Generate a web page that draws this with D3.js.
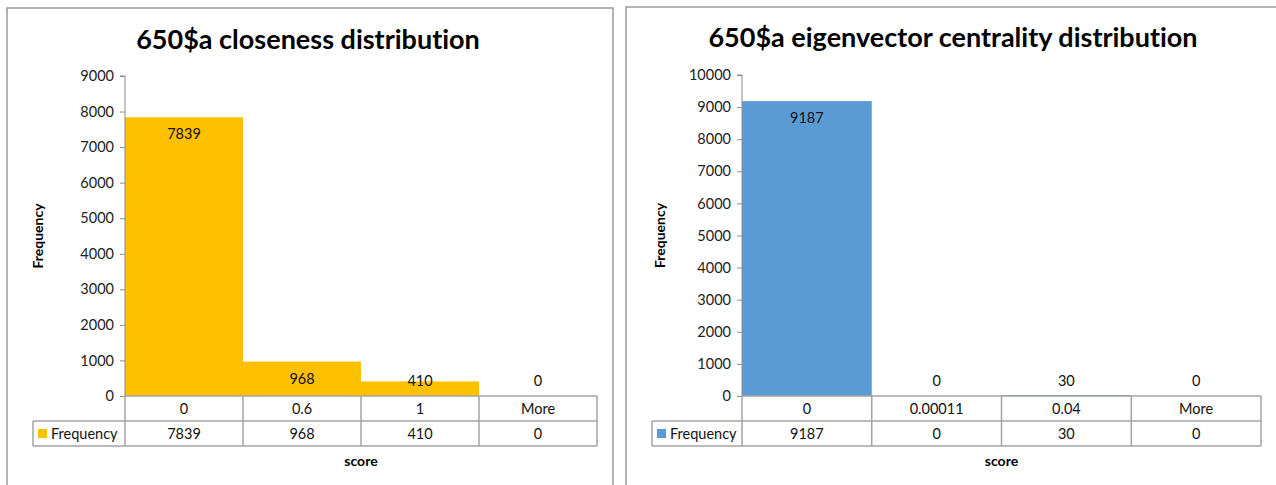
<!DOCTYPE html>
<html>
<head>
<meta charset="utf-8">
<script src="https://cdn.jsdelivr.net/npm/d3@7"></script>
<style>
  html, body { margin: 0; padding: 0; background: #fff; }
  svg { display: block; font-family: Lato, "Open Sans", sans-serif; font-variant-ligatures: none; }
  svg text { font-variant-ligatures: none; font-feature-settings: "liga" 0, "clig" 0; }
</style>
</head>
<body>
<svg id="chart" width="1276" height="485"></svg>
<script>
// Histogram data: bin labels, frequencies and axis ticks for each chart
const closenessTitle = "650$a closeness distribution";
const closenessBins = ["0", "0.6", "1", "More"];
const closenessFreq = [7839, 968, 410, 0];
const closenessTicks = [0, 1000, 2000, 3000, 4000, 5000, 6000, 7000, 8000, 9000];

const eigenTitle = "650$a eigenvector centrality distribution";
const eigenBins = ["0", "0.00011", "0.04", "More"];
const eigenFreq = [9187, 0, 30, 0];
const eigenTicks = [0, 1000, 2000, 3000, 4000, 5000, 6000, 7000, 8000, 9000, 10000];

const seriesName = "Frequency";
const xTitle = "score";

const svg = d3.select("#chart");
const FONT = 14.5;

function drawHistogram(opt) {
  const g = svg.append("g");
  const rowH = 25;

  // chart frame
  g.append("rect")
    .attr("x", opt.frame[0]).attr("y", opt.frame[1])
    .attr("width", opt.frame[2]).attr("height", opt.frame[3])
    .attr("fill", "#fff").attr("stroke", "#9b9b9b").attr("stroke-width", 1.5);

  // title
  g.append("text")
    .attr("x", opt.titleX).attr("y", opt.titleY)
    .attr("text-anchor", "middle")
    .attr("font-size", 27).attr("font-weight", "bold")
    .attr("fill", "#000")
    .text(opt.title);

  const x = d3.scaleBand().domain(opt.bins).range([opt.left, opt.right]).padding(0);
  const y = d3.scaleLinear().domain([0, d3.max(opt.ticks)]).range([opt.bottom, opt.top]);

  // bars
  g.selectAll("rect.bar").data(opt.values).join("rect")
    .attr("class", "bar")
    .attr("x", (d, i) => x(opt.bins[i]))
    .attr("width", x.bandwidth())
    .attr("y", d => y(d))
    .attr("height", d => y(0) - y(d))
    .attr("fill", opt.color);

  // data labels (inside end, kept above the axis)
  g.selectAll("text.dl").data(opt.values).join("text")
    .attr("class", "dl")
    .attr("x", (d, i) => x(opt.bins[i]) + x.bandwidth() / 2)
    .attr("y", d => Math.min(y(d) + 17, y(0) - 15))
    .attr("dy", "0.35em")
    .attr("text-anchor", "middle")
    .attr("font-size", FONT).attr("fill", "#111")
    .text(d => d);

  // y axis
  const yAxis = d3.axisLeft(y).tickValues(opt.ticks).tickSize(5).tickPadding(6).tickFormat(d3.format("d"));
  const ya = g.append("g").attr("transform", `translate(${opt.left},0)`).call(yAxis);
  ya.select(".domain").attr("stroke", "#8c8c8c").attr("d", `M-5,${opt.top}H0V${opt.bottom}`);
  ya.selectAll(".tick line").attr("stroke", "#8c8c8c");
  ya.selectAll(".tick text").attr("font-size", FONT).attr("fill", "#222")
    .attr("font-family", "Lato, 'Open Sans', sans-serif");

  // y axis title
  g.append("text")
    .attr("transform", `translate(${opt.yTitleX},${(opt.top + opt.bottom) / 2}) rotate(-90)`)
    .attr("text-anchor", "middle").attr("dy", "0.35em")
    .attr("font-size", 14).attr("font-weight", "bold").attr("fill", "#000")
    .text(seriesName);

  // data table
  const tbl = g.append("g");
  const lineColor = "#a3a3a3";
  const y0 = y(0);
  tbl.append("line").attr("x1", opt.left).attr("x2", opt.right).attr("y1", y0).attr("y2", y0);
  tbl.append("line").attr("x1", opt.legendLeft).attr("x2", opt.right).attr("y1", y0 + rowH).attr("y2", y0 + rowH);
  tbl.append("line").attr("x1", opt.legendLeft).attr("x2", opt.right).attr("y1", y0 + 2 * rowH).attr("y2", y0 + 2 * rowH);
  tbl.append("line").attr("x1", opt.legendLeft).attr("x2", opt.legendLeft).attr("y1", y0 + rowH).attr("y2", y0 + 2 * rowH);
  const edges = opt.bins.map(b => x(b)).concat([opt.right]);
  tbl.selectAll("line.v").data(edges).join("line").attr("class", "v")
    .attr("x1", d => d).attr("x2", d => d).attr("y1", y0).attr("y2", y0 + 2 * rowH);
  tbl.selectAll("line").attr("stroke", lineColor).attr("stroke-width", 1.5);

  tbl.selectAll("text.cat").data(opt.bins).join("text").attr("class", "cat")
    .attr("x", d => x(d) + x.bandwidth() / 2).attr("y", y0 + rowH / 2).attr("dy", "0.35em")
    .attr("text-anchor", "middle").attr("font-size", FONT).attr("fill", "#111")
    .text(d => d);
  tbl.selectAll("text.val").data(opt.values).join("text").attr("class", "val")
    .attr("x", (d, i) => x(opt.bins[i]) + x.bandwidth() / 2).attr("y", y0 + rowH * 1.5).attr("dy", "0.35em")
    .attr("text-anchor", "middle").attr("font-size", FONT).attr("fill", "#111")
    .text(d => d);

  // legend key inside the table
  tbl.append("rect")
    .attr("x", opt.legendLeft + 5).attr("y", y0 + rowH * 1.5 - 4.5)
    .attr("width", 9).attr("height", 9).attr("fill", opt.color);
  tbl.append("text")
    .attr("x", opt.legendLeft + 18).attr("y", y0 + rowH * 1.5).attr("dy", "0.35em")
    .attr("font-size", FONT).attr("fill", "#111")
    .text(seriesName);

  // x axis title
  g.append("text")
    .attr("x", (opt.left + opt.right) / 2).attr("y", y0 + 2 * rowH + 15).attr("dy", "0.35em")
    .attr("text-anchor", "middle").attr("font-size", 14).attr("font-weight", "bold").attr("fill", "#000")
    .text(xTitle);
}

drawHistogram({
  title: closenessTitle, bins: closenessBins, values: closenessFreq, ticks: closenessTicks,
  color: "#FFC000",
  frame: [7, 8, 606, 490], titleX: 308, titleY: 49,
  left: 125, right: 597, top: 76, bottom: 396, legendLeft: 33, yTitleX: 38
});

drawHistogram({
  title: eigenTitle, bins: eigenBins, values: eigenFreq, ticks: eigenTicks,
  color: "#5B9BD5",
  frame: [626, 7, 680, 490], titleX: 953, titleY: 47,
  left: 742, right: 1261, top: 75, bottom: 396, legendLeft: 652, yTitleX: 660
});
</script>
</body>
</html>
